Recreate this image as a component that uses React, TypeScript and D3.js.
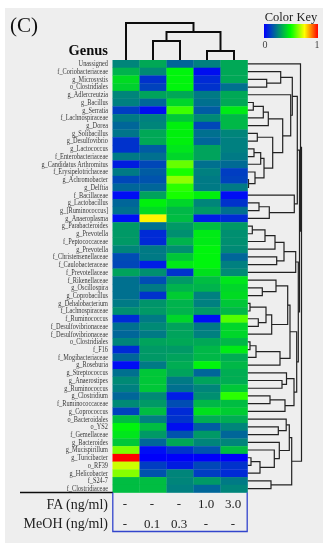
import React from "react";
import * as d3 from "d3";

const rowLabels = ["Unassigned","f_Coriobacteriaceae","g_Microsystis","o_Clostridiales","g_Adlercreutzia","g_Bacillus","g_Serratia","f_Lachnospiraceae","g_Dorea","g_Solibacillus","g_Desulfovibrio","g_Lactococcus","f_Enterobacteriaceae","g_Candidatus Arthromitus","f_Erysipelotrichaceae","g_Achromobacter","g_Delftia","f_Bacillaceae","g_Lactobacillus","g_[Ruminococcus]","g_Anaeroplasma","g_Parabacteroides","g_Prevotella","f_Peptococcaceae","g_Prevotella","f_Christensenellaceae","f_Caulobacteraceae","f_Prevotellaceae","f_Rikenellaceae","g_Oscillospira","g_Coprobacillus","g_Dehalobacterium","f_Lachnospiraceae","f_Ruminococcus","f_Desulfovibrionaceae","f_Desulfovibrionaceae","o_Clostridiales","f_F16","f_Mogibacteriaceae","g_Roseburia","g_Streptococcus","g_Anaerostipes","g_Ruminococcus","g_Clostridium","f_Ruminococcaceae","g_Coprococcus","o_Bacteroidales","o_YS2","f_Gemellaceae","g_Bacteroides","g_Mucispirillum","g_Turicibacter","o_RF39","g_Helicobacter","f_S24-7","f_Clostridiaceae"];

const values: number[][] = [
[.26,.33,.2,.25,.33],[.35,.27,.48,.03,.33],[.43,.1,.48,.08,.33],[.41,.13,.48,.1,.22],[.26,.32,.33,.24,.33],
[.25,.2,.42,.22,.33],[.12,.03,.56,.18,.46],[.24,.25,.39,.27,.36],[.2,.26,.47,.14,.36],[.23,.33,.47,.22,.26],
[.1,.33,.47,.2,.25],[.1,.18,.45,.32,.25],[.24,.22,.42,.32,.24],[.06,.14,.6,.22,.21],[.24,.18,.52,.25,.12],
[.14,.16,.64,.24,.13],[.2,.2,.54,.24,.24],[.02,.32,.52,.47,.02],[.2,.47,.42,.26,.1],[.22,.43,.36,.3,.22],
[.02,.76,.37,.05,.08],[.3,.22,.3,.37,.3],[.3,.08,.28,.46,.28],[.3,.08,.35,.46,.28],[.26,.24,.28,.48,.27],
[.15,.24,.39,.48,.2],[.14,.05,.46,.48,.25],[.32,.28,.1,.44,.27],[.22,.15,.3,.37,.45],[.22,.24,.35,.35,.42],
[.22,.1,.4,.25,.43],[.24,.29,.35,.25,.39],[.28,.3,.35,.3,.36],[.08,.24,.42,.02,.58],[.22,.27,.32,.24,.42],
[.2,.24,.32,.25,.42],[.26,.32,.33,.33,.36],[.08,.3,.3,.36,.46],[.2,.3,.32,.36,.34],[.02,.24,.34,.48,.36],
[.22,.39,.32,.2,.34],[.27,.39,.24,.32,.34],[.25,.39,.22,.26,.39],[.2,.27,.05,.28,.54],[.27,.3,.15,.36,.37],
[.13,.37,.08,.44,.4],[.37,.25,.1,.34,.34],[.48,.37,.03,.18,.26],[.45,.3,.16,.3,.2],[.39,.2,.33,.26,.26],
[.62,.02,.1,.16,.37],[1,.01,.01,.01,.01],[.7,.12,.06,.14,.1],[.63,.16,.26,.12,.08],[.37,.37,.26,.3,.24],[.37,.37,.25,.2,.26],
];

const faLabels = ["-","-","-","1.0","3.0"];
const meohLabels = ["-","0.1","0.3","-","-"];
const colorStops = [0, 0.5, 0.75, 1];
const colorValues = ["#0000ff", "#00ff00", "#ffff00", "#ff0000"];
const keyTicks = [0, 1];

type Tree = number | [number, Tree, Tree];

// leaves are 1-based row numbers
const rows2to4: Tree = [33.2, 2, [19.2, 3, 4]];
const rows6to9: Tree = [20.8, [15.8, [5.8, 6, 7], 8], 9];
const rows10to17: Tree = [25.2, [9.8, 10, 11], [16.5, [13.2, [6.5, 12, 13], 14], [7.5, 15, [1, 16, 17]]]];
const rows5to17: Tree = [43.2, 5, [35.2, rows6to9, rows10to17]];
const rows18to21: Tree = [46.8, 18, [21.8, [11.5, 19, 20], 21]];
const rows2to21: Tree = [49.8, [44.8, rows2to4, rows5to17], rows18to21];
const rows22to28: Tree = [48.2, [36.5, [27.5, [17.5, [4.8, 22, 23], 24], 25], [29.2, 26, 27]], 28];
const rows29to36: Tree = [40.2, [28.5, 29, [14.8, 30, 31]], [24.2, [18.5, [2.5, 32, 33], [10.8, 34, 35]], 36]];
const rows37to40: Tree = [32.5, [8.5, [2.5, 37, 38], 39], 40];
const rows41to46: Tree = [46.5, [39, 41, [34.5, 42, 43]], [37.5, [22.5, 44, 45], 46]];
const rows29to46: Tree = [49.2, [42.5, rows29to36, rows37to40], rows41to46];
const rows47to56: Tree = [44.2, [41.8, [38.7, 47, [30.8, 48, 49]], [31.8, 50, [26.8, 51, [12.5, [3.5, 52, 53], 54]]]], [23.5, 55, 56]];
const rowTree: Tree = [54, [53, 1, [52, rows2to21, [50.8, rows22to28, rows29to46]]], rows47to56];
const colTree: Tree = [37, 0, [28, [19, 1, 2], [9, 3, 4]]];

const color = d3.scaleLinear<string>().domain(colorStops).range(colorValues).interpolate(d3.interpolateRgb);
const x = d3.scaleBand<number>().domain(d3.range(5)).range([112.5, 247.5]);
const y = d3.scaleBand<number>().domain(d3.range(56)).range([60, 492.5]);
const hRow = d3.scaleLinear().domain([0, 54]).range([247.5, 301.5]);
const hCol = d3.scaleLinear().domain([0, 37]).range([60, 23]);
const keyX = d3.scaleLinear().domain([0, 1]).range([264, 318]);

function dendro(t: Tree, leaf: (n: number) => number, h: (v: number) => number, out: string[]): { p: number; h: number } {
  if (typeof t === "number") return { p: leaf(t), h: 0 };
  const a = dendro(t[1], leaf, h, out);
  const b = dendro(t[2], leaf, h, out);
  out.push(`M${h(a.h)},${a.p}L${h(t[0])},${a.p}L${h(t[0])},${b.p}L${h(b.h)},${b.p}`);
  return { p: (a.p + b.p) / 2, h: t[0] };
}

const rowPaths: string[] = [];
dendro(rowTree, (n) => y(n - 1)! + y.bandwidth() / 2, hRow, rowPaths);
const colPaths: string[] = [];
{
  const rec = (t: Tree): { p: number; h: number } => {
    if (typeof t === "number") return { p: x(t)! + x.bandwidth() / 2, h: 0 };
    const a = rec(t[1]);
    const b = rec(t[2]);
    colPaths.push(`M${a.p},${hCol(a.h)}L${a.p},${hCol(t[0])}L${b.p},${hCol(t[0])}L${b.p},${hCol(b.h)}`);
    return { p: (a.p + b.p) / 2, h: t[0] };
  };
  rec(colTree);
}

const serif = "'Liberation Serif', serif";

export default function App() {
  const gradStops = d3.range(0, 1.001, 0.05);
  return (
    <svg width={335} height={550} style={{ position: "absolute", left: 0, top: 0, background: "#fff" }} fontFamily={serif}>
      <defs>
        <filter id="soft" x="0" y="0" width="100%" height="100%">
          <feGaussianBlur stdDeviation="0.45" />
        </filter>
        <linearGradient id="key">
          {gradStops.map((s) => (
            <stop key={s} offset={s} stopColor={color(s)} />
          ))}
        </linearGradient>
      </defs>
      <g filter="url(#soft)">
        <rect x={5} y={8} width={318} height={535} fill="#eeeeee" />
        <text x={10} y={32} fontSize={21} fill="#111">(C)</text>
        <text x={108} y={55} fontSize={14.5} fontWeight="bold" textAnchor="end" fill="#111">Genus</text>
        <text x={291} y={21} fontSize={12.5} textAnchor="middle" fill="#222">Color Key</text>
        <rect x={keyX(0)} y={24} width={keyX(1) - keyX(0)} height={14} fill="url(#key)" />
        {keyTicks.map((t) => (
          <text key={t} x={keyX(t) + (t ? -1 : 1)} y={48} fontSize={10} textAnchor="middle" fill="#444">{t}</text>
        ))}
        <g fill="none" stroke="#111" strokeWidth={2}>
          {colPaths.map((d, i) => <path key={i} d={d} />)}
        </g>
        <g fill="none" stroke="#222" strokeWidth={1.2}>
          {rowPaths.map((d, i) => <path key={i} d={d} />)}
        </g>
        {values.map((row, r) =>
          row.map((v, c) => (
            <rect key={`${r}-${c}`} x={x(c)} y={y(r)} width={x.bandwidth() + 0.3} height={y.bandwidth() + 0.3} fill={color(v)} />
          ))
        )}
        {rowLabels.map((l, r) => (
          <text
            key={r}
            transform={`translate(108,${y(r)! + y.bandwidth() / 2 + 2.4}) scale(0.83,1)`}
            fontSize={7.6}
            textAnchor="end"
            fill="#3a3a3a"
          >
            {l}
          </text>
        ))}
        <line x1={20} x2={113} y1={492.5} y2={492.5} stroke="#111" strokeWidth={1.5} />
        <path d="M112.8,492.5V531.5H247.2V492.5" fill="none" stroke="#3344cc" strokeWidth={1.3} />
        <text x={108} y={509} fontSize={14} textAnchor="end" fill="#222">FA (ng/ml)</text>
        <text x={108} y={528} fontSize={14} textAnchor="end" fill="#222">MeOH (ng/ml)</text>
        {faLabels.map((t, i) => (
          <text key={i} x={x(i)! + x.bandwidth() / 2 - 1} y={508} fontSize={13} textAnchor="middle" fill="#222">{t}</text>
        ))}
        {meohLabels.map((t, i) => (
          <text key={i} x={x(i)! + x.bandwidth() / 2 - 1} y={528} fontSize={13} textAnchor="middle" fill="#222">{t}</text>
        ))}
      </g>
    </svg>
  );
}
